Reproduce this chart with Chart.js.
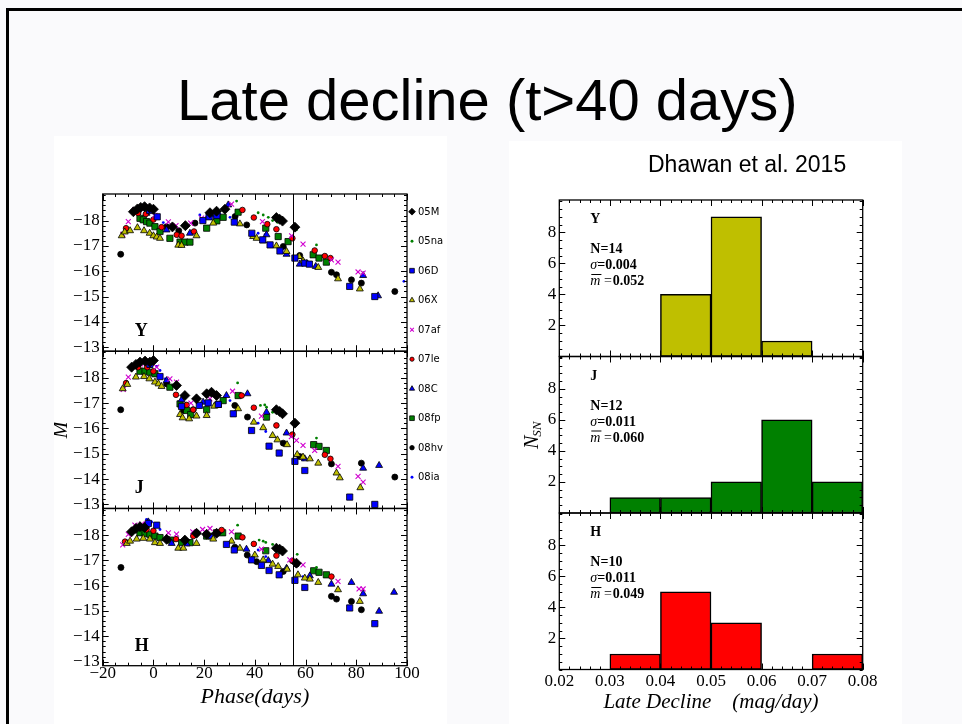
<!DOCTYPE html>
<html>
<head>
<meta charset="utf-8">
<script src="https://cdn.jsdelivr.net/npm/chart.js@4.4.0/dist/chart.umd.min.js"></script>
<style>
  html, body { margin: 0; padding: 0; }
  body { width: 962px; height: 724px; background: #fafafc; position: relative; overflow: hidden;
         font-family: "Liberation Sans", Arial, sans-serif; }
  #frameTop { position: absolute; left: 6px; top: 8px; width: 956px; height: 3px; background: #000; }
  #frameLeft { position: absolute; left: 6px; top: 8px; width: 3px; height: 716px; background: #000; }
  #title { position: absolute; left: 177px; top: 71px; font-size: 58px; line-height: 1; white-space: nowrap; color: #000; }
  .panel { position: absolute; background: #fff; }
  #leftPanel { left: 54px; top: 136px; width: 393px; height: 588px; }
  #rightPanel { left: 509px; top: 141px; width: 393px; height: 583px; }
  #cite { position: absolute; left: 648px; top: 153px; font-size: 23px; line-height: 1; white-space: nowrap; color: #000; }
  canvas { position: absolute; left: 0; top: 0; }
</style>
</head>
<body>
<div id="frameTop"></div>
<div id="frameLeft"></div>
<div id="title">Late decline (t&gt;40 days)</div>
<div class="panel" id="leftPanel"><canvas id="lcChart" width="393" height="588"></canvas></div>
<div class="panel" id="rightPanel"><canvas id="histChart" width="393" height="583"></canvas></div>
<div id="cite">Dhawan et al. 2015</div>

<script>
// ---- light curves: [phase (days), absolute mag] ----
const snNames = ['05M', '05na', '06D', '06X', '07af', '07le', '08C', '08fp', '08hv', '08ia'];
const bands = ['Y', 'J', 'H'];

const sn05M_Y = [[-7.9,-18.35],[-6.3,-18.46],[-5,-18.52],[-3.5,-18.55],[-1.5,-18.5],[0,-18.45],[7.5,-17.75],[12.6,-17.8],[22.3,-18.31],[24.9,-18.37],[28.2,-18.45],[48.5,-18.12],[49.8,-18.05],[50.9,-17.98],[55.8,-17.74]];
const sn05na_Y = [[32.8,-18.77],[41.3,-18.31],[43.3,-18.22],[45.3,-18.13],[47,-18.0],[48.9,-17.93],[56.4,-17.63],[64.3,-17.04]];
const sn06D_Y = [[-1.5,-18.4],[1.5,-18.15],[19.5,-18.0],[22,-18.15],[25,-18.2],[31.9,-17.94],[38.8,-17.5],[43.1,-17.24],[46,-17.04],[49.9,-16.8],[55.8,-16.52],[59.7,-16.32],[61.5,-16.28],[77.4,-15.4],[87.3,-15.0]];
const sn06X_Y = [[-12.5,-17.4],[-11.3,-17.55],[-9.2,-17.6],[-6.3,-17.72],[-3.7,-17.6],[-1.5,-17.5],[0,-17.4],[1.3,-17.35],[2.6,-17.3],[9.8,-17.03],[11.1,-17.02],[17,-17.4],[23.6,-17.9],[34.1,-17.87],[39.3,-17.37],[40.7,-17.3],[43.3,-17.2],[48.5,-17.0],[52.5,-16.78],[57.5,-16.58],[59,-16.41],[60.4,-16.3],[65,-16.15],[72.8,-15.7],[81.4,-15.3]];
const sn07af_Y = [[-12.1,-17.46],[-9.9,-17.96],[-7.3,-18.42],[-5,-18.5],[-3.4,-18.55],[0.6,-18.21],[5.9,-17.95],[8.9,-17.8],[14.7,-17.9],[19,-18.1],[30.8,-18.65],[43,-17.96],[54.5,-17.4],[59,-17.07],[70.2,-16.45],[72.8,-16.36],[80.7,-15.97],[82.7,-15.93]];
const sn07le_Y = [[-10.8,-17.7],[-6,-18.3],[-3,-18.26],[0,-18.04],[3.2,-17.74],[9.2,-17.44],[11.1,-17.4],[16,-17.57],[35.1,-18.42],[39.6,-18.12],[44.9,-17.86],[48.5,-17.66],[54.8,-17.3],[63.6,-16.82],[67.6,-16.6],[69.8,-16.52]];
const sn08C_Y = [[-2.7,-18.29],[5.2,-17.63],[14.4,-17.5],[29.5,-18.62],[44.6,-17.44],[52.5,-16.67],[57.7,-16.28],[64,-16.19],[82.7,-15.83],[88.6,-15.03]];
const sn08fp_Y = [[-5.3,-18.09],[-4,-18.03],[-2.7,-17.96],[-1.4,-17.9],[0.6,-17.76],[2.6,-17.57],[6.5,-17.3],[10.5,-17.15],[12.4,-17.15],[14.4,-17.15],[21,-17.7],[25,-17.99],[27.5,-18.13],[33.4,-18.33],[44.3,-17.7],[49.2,-17.37],[53.1,-17.17],[63,-16.65],[65.3,-16.52],[68.2,-16.36]];
const sn08hv_Y = [[-12.9,-16.67],[5.2,-17.76],[10,-17.6],[16.4,-17.9],[22,-18.25],[32.2,-18.16],[36.8,-17.83],[51.2,-16.98],[57.7,-16.62],[70.2,-15.96],[72.2,-15.86],[78.1,-15.66],[82,-15.53],[95.2,-15.2]];
const sn08ia_Y = [[-2,-18.42],[0,-18.29],[1.9,-18.1],[3.9,-17.92],[18.3,-18.22],[21,-18.16],[23.6,-18.18],[26.2,-18.25],[30.2,-18.13],[41.3,-17.5],[44,-17.44],[59,-16.45],[98.8,-15.6]];

const sn05M_J = [[-8.6,-18.42],[-6.9,-18.53],[-5.3,-18.62],[-3.3,-18.66],[-1.4,-18.62],[0,-18.68],[9.1,-17.7],[12.4,-17.3],[17,-17.17],[21,-17.37],[22.9,-17.43],[24.9,-17.3],[48.5,-16.74],[49.8,-16.67],[50.9,-16.58],[55.8,-16.21]];
const sn05na_J = [[33.2,-17.8],[42.2,-16.91],[43.9,-16.93],[44.6,-16.84],[47,-16.64],[64.3,-15.62]];
const sn06D_J = [[-1.4,-18.53],[2.6,-18.05],[11.1,-16.87],[18.1,-16.91],[21.6,-17.01],[25.6,-16.95],[31.5,-16.58],[38.7,-15.92],[45.6,-15.3],[49.6,-15.03],[55.8,-14.7],[59.7,-14.34],[77.4,-13.29],[87.3,-13.0]];
const sn06X_J = [[-12.1,-17.57],[-10.3,-17.74],[-6.9,-18.03],[-3.7,-18.05],[-1.6,-17.96],[0.6,-17.83],[2,-17.76],[3.2,-17.66],[10.5,-16.55],[11.5,-16.42],[14.1,-16.38],[17,-16.49],[21,-16.51],[24,-16.88],[33.4,-16.78],[39.6,-16.25],[43.3,-16.03],[47,-15.72],[48.9,-15.55],[52.7,-15.36],[56.7,-14.97],[59,-14.87],[61.7,-14.8],[65,-14.63],[72.2,-14.24],[73.5,-14.05],[81.6,-13.66]];
const sn07af_J = [[-11.9,-17.54],[-9.9,-18.03],[-5,-18.55],[-2.7,-18.58],[1.3,-18.42],[6.5,-17.96],[9.1,-17.83],[14.8,-17.0],[22.3,-17.17],[31.2,-17.47],[42.6,-16.49],[54.4,-15.68],[56.4,-15.53],[59,-15.33],[63.6,-15.13],[72.8,-14.5],[80.7,-14.11],[82.7,-13.88]];
const sn07le_J = [[-10.8,-17.79],[-6,-18.42],[-2.4,-18.42],[0,-18.26],[8.9,-17.33],[13.1,-16.93],[15.7,-16.74],[34.8,-17.3],[39.6,-16.82],[48.5,-16.12],[54.8,-15.76],[67.6,-14.96],[69.8,-14.8]];
const sn08C_J = [[-2,-18.5],[5.2,-17.89],[11.1,-17.13],[19.6,-17.04],[28.8,-17.3],[37.1,-17.37],[44.6,-16.64],[52.5,-15.82],[59.7,-14.8],[82.7,-14.43],[89,-14.54]];
const sn08fp_J = [[-5.3,-18.26],[-3.3,-18.26],[-1.4,-18.22],[0.6,-18.16],[6.5,-17.63],[10.5,-16.97],[13.1,-16.71],[14.7,-16.55],[21,-16.74],[25.6,-16.95],[27.5,-17.1],[33.4,-17.3],[44.6,-16.45],[63.2,-15.36],[65.3,-15.29],[68.2,-15.13]];
const sn08hv_J = [[-12.9,-16.74],[5.2,-17.76],[11.8,-16.71],[15.7,-16.74],[32.1,-16.91],[37.1,-16.45],[51.2,-15.42],[57.7,-14.89],[70.2,-14.6],[82,-14.63],[95.2,-14.08]];
const sn08ia_J = [[1.3,-18.45],[2.6,-18.29],[4.6,-17.96],[13.1,-16.84],[30.2,-17.1],[41.3,-16.21],[44.3,-15.88],[59,-14.76]];

const sn05M_H = [[-8.6,-18.13],[-6.9,-18.26],[-5.3,-18.33],[-3.5,-18.3],[5.2,-17.83],[12.4,-17.8],[17,-18.07],[21,-18.03],[24.9,-18.07],[48.5,-17.48],[49.8,-17.44],[50.9,-17.37],[56.4,-16.89]];
const sn05na_H = [[33.2,-18.39],[41.7,-17.8],[43.3,-17.76],[44.3,-17.71],[47,-17.63],[56.7,-17.24],[64.3,-16.72]];
const sn06D_H = [[-2,-18.46],[1.3,-18.39],[28.8,-17.63],[31.9,-17.41],[38.7,-17.02],[42.6,-16.8],[45.6,-16.6],[49.6,-16.43],[55.8,-16.21],[59.7,-15.93],[77.4,-15.12],[87.3,-14.5]];
const sn06X_H = [[-10.5,-17.67],[-9.2,-17.76],[-6.6,-17.84],[-4,-17.87],[-1.4,-17.84],[0.6,-17.7],[2.6,-17.67],[9.8,-17.48],[11.8,-17.48],[17,-17.67],[23.6,-17.84],[30.8,-17.76],[34.1,-17.48],[40,-17.21],[43.3,-17.02],[47,-16.85],[49.2,-16.76],[52.7,-16.65],[57,-16.43],[59.7,-16.3],[61.7,-16.26],[65,-16.13],[72.8,-15.84],[81.4,-15.38]];
const sn07af_H = [[-12.1,-17.61],[-9.9,-18.03],[-7.3,-18.39],[-4.6,-18.43],[-2.7,-18.43],[5.9,-18.09],[9.1,-18.04],[15.5,-18.13],[19.4,-18.22],[22.3,-18.26],[30.8,-18.13],[42.6,-17.44],[53.8,-17.02],[59,-16.82],[72.8,-16.17],[81.1,-15.87],[82.7,-15.87]];
const sn07le_H = [[-11.2,-17.74],[-6.6,-18.26],[-2.7,-18.22],[0,-18.17],[8.9,-17.84],[15.7,-17.96],[26.9,-18.2],[35.1,-17.91],[39.6,-17.65],[48.5,-17.19],[54.8,-16.98],[70.2,-16.36]];
const sn08C_H = [[-2,-18.52],[7.2,-17.67],[13.1,-17.65],[22.9,-17.93],[36.7,-17.44],[45.3,-16.99],[52.5,-16.69],[61.7,-16.39],[70.2,-16.06],[78.1,-16.13],[82.7,-15.68],[89,-14.99],[94.9,-15.74]];
const sn08fp_H = [[-5.3,-18.09],[-3.3,-18.07],[-1.4,-18.03],[0.6,-17.96],[2.6,-17.9],[6.8,-17.8],[11.1,-17.7],[14.4,-17.7],[21,-17.96],[24.9,-18.09],[27.3,-18.09],[33.4,-17.96],[44.3,-17.38],[63.2,-16.59],[65.3,-16.53],[68.2,-16.43]];
const sn08hv_H = [[-12.8,-16.72],[5.5,-17.84],[11.8,-17.74],[17,-18.09],[32.1,-17.52],[37,-17.21],[40.7,-16.95],[51.2,-16.56],[56.4,-16.85],[70.2,-15.58],[72.2,-15.47],[78.1,-15.38],[82,-15.05]];
const sn08ia_H = [[-2.7,-18.62],[-0.7,-18.52],[1.3,-18.39],[2.6,-18.22],[20.3,-18.09],[24.9,-18.0],[30.8,-17.74],[41.3,-17.41],[44.3,-17.15],[59,-16.36]];

const curvesY = [sn05M_Y, sn05na_Y, sn06D_Y, sn06X_Y, sn07af_Y, sn07le_Y, sn08C_Y, sn08fp_Y, sn08hv_Y, sn08ia_Y];
const curvesJ = [sn05M_J, sn05na_J, sn06D_J, sn06X_J, sn07af_J, sn07le_J, sn08C_J, sn08fp_J, sn08hv_J, sn08ia_J];
const curvesH = [sn05M_H, sn05na_H, sn06D_H, sn06X_H, sn07af_H, sn07le_H, sn08C_H, sn08fp_H, sn08hv_H, sn08ia_H];

const phaseTicks = [-20, 0, 20, 40, 60, 80, 100];
const magTicks = [-18, -17, -16, -15, -14, -13];
const cutoffPhase = 55;

// ---- late decline histograms ----
const declineBins = [0.02, 0.03, 0.04, 0.05, 0.06, 0.07, 0.08];
const countsY = [0, 0, 4, 9, 1, 0];
const countsJ = [0, 1, 1, 2, 6, 2];
const countsH = [0, 1, 5, 3, 0, 1];
const statsY = ['14', '0.004', '0.052'];
const statsJ = ['12', '0.011', '0.060'];
const statsH = ['10', '0.011', '0.049'];
const declineTicks = [0.02, 0.03, 0.04, 0.05, 0.06, 0.07, 0.08];
const countTicks = [2, 4, 6, 8];

// ---- styles ----
const serif = '"Liberation Serif", "Times New Roman", serif';
const markers = [
  { style: 'rectRot',  r: 5.0, bg: '#000000', edge: '#000000', bw: 0.8 },
  { style: 'circle',   r: 1.4, bg: '#008000', edge: '#008000', bw: 0 },
  { style: 'rect',     r: 4.4, bg: '#0000ff', edge: '#000000', bw: 0.8 },
  { style: 'triangle', r: 4.0, bg: '#bfbf00', edge: '#000000', bw: 0.8 },
  { style: 'crossRot', r: 3.5, bg: '#d000d0', edge: '#d000d0', bw: 1.1 },
  { style: 'circle',   r: 2.8, bg: '#ff0000', edge: '#000000', bw: 0.8 },
  { style: 'triangle', r: 4.0, bg: '#0000ff', edge: '#000000', bw: 0.8 },
  { style: 'rect',     r: 4.4, bg: '#008000', edge: '#000000', bw: 0.8 },
  { style: 'circle',   r: 3.0, bg: '#000000', edge: '#000000', bw: 0.8 },
  { style: 'circle',   r: 1.4, bg: '#0000ff', edge: '#0000ff', bw: 0 }
];
const minus = v => String(v).replace('-', '\u2212');

function steps(min, max, step) {
  const out = [];
  for (let k = Math.ceil(min / step - 1e-6); k <= Math.floor(max / step + 1e-6); k++) out.push(k * step);
  return out;
}

// box frame + inward ticks on all sides of every stacked panel
const frameTicks = {
  id: 'frameTicks',
  afterDatasetsDraw(chart, args, o) {
    const ctx = chart.ctx, ca = chart.chartArea, xs = chart.scales.x;
    ctx.save();
    ctx.strokeStyle = '#000';
    ctx.lineWidth = 1;
    const xMaj = xs.ticks.map(t => t.value);
    const xMin = steps(xs.min, xs.max, o.xMinor);
    o.yIds.forEach(id => {
      const ys = chart.scales[id];
      ctx.beginPath();
      const tick = (vals, len) => {
        vals.forEach(v => {
          const px = Math.round(xs.getPixelForValue(v)) + 0.5;
          ctx.moveTo(px, ys.bottom); ctx.lineTo(px, ys.bottom - len);
          ctx.moveTo(px, ys.top); ctx.lineTo(px, ys.top + len);
        });
      };
      tick(xMin, 3); tick(xMaj, 6);
      const yMin = steps(Math.min(ys.min, ys.max), Math.max(ys.min, ys.max), o.yMinor);
      const yMaj = ys.ticks.map(t => t.value);
      [[yMin, 3], [yMaj, 6]].forEach(([vals, len]) => {
        vals.forEach(v => {
          const py = Math.round(ys.getPixelForValue(v)) + 0.5;
          ctx.moveTo(ca.left, py); ctx.lineTo(ca.left + len, py);
          ctx.moveTo(ca.right, py); ctx.lineTo(ca.right - len, py);
        });
      });
      ctx.stroke();
      ctx.lineWidth = 1.3;
      ctx.strokeRect(ca.left, ys.top, ca.right - ca.left, ys.bottom - ys.top);
      ctx.lineWidth = 1;
    });
    ctx.restore();
  }
};

// vertical cut line, band letters and legend for the light-curve figure
const lcDecor = {
  id: 'lcDecor',
  afterDraw(chart) {
    const ctx = chart.ctx, ca = chart.chartArea, xs = chart.scales.x;
    ctx.save();
    const px = Math.round(xs.getPixelForValue(cutoffPhase)) + 0.5;
    ctx.strokeStyle = '#000'; ctx.lineWidth = 1;
    ctx.beginPath(); ctx.moveTo(px, ca.top); ctx.lineTo(px, ca.bottom); ctx.stroke();

    ctx.fillStyle = '#000';
    ctx.font = 'bold 18px ' + serif;
    ctx.textBaseline = 'alphabetic';
    bands.forEach(b => {
      const ys = chart.scales['y' + b];
      ctx.fillText(b, ca.left + 32, ys.bottom - 15);
    });

    ctx.font = '10px "DejaVu Sans", sans-serif';
    ctx.textBaseline = 'middle';
    snNames.forEach((name, i) => {
      const m = markers[i];
      const y = 75.7 + i * 29.5;
      ctx.fillStyle = m.bg; ctx.strokeStyle = m.edge;
      ctx.lineWidth = m.bw || 1;
      Chart.helpers.drawPoint(ctx, { pointStyle: m.style, rotation: 0, radius: Math.min(m.r * 0.75, 3.4) + (m.r < 2 ? 0.4 : 0), borderWidth: m.bw || (m.style === 'crossRot' ? 1 : 0) }, 358, y);
      ctx.fillStyle = '#000';
      ctx.fillText(name, 364, y + 0.5);
    });
    ctx.restore();
  }
};

function magAxis(showTitle) {
  return {
    type: 'linear', position: 'left', stack: 'lc', stackWeight: 1, reverse: true,
    min: -19.05, max: -12.84,
    grid: { display: false, drawTicks: false }, border: { display: false },
    afterFit: s => { s.width = 48.7; },
    afterBuildTicks: s => { s.ticks = magTicks.map(v => ({ value: v })); },
    ticks: { autoSkip: false, padding: 3, color: '#000', font: { family: serif, size: 17 }, callback: v => minus(v) },
    title: { display: showTitle, text: 'M', color: '#000', font: { family: serif, size: 20, style: 'italic' }, padding: { top: -4.5, bottom: 0 } }
  };
}

const lcDatasets = [];
[[curvesY, 'yY'], [curvesJ, 'yJ'], [curvesH, 'yH']].forEach(([curves, axisId]) => {
  curves.forEach((pts, i) => {
    const m = markers[i];
    lcDatasets.push({
      label: snNames[i],
      data: pts.map(([p, mag]) => ({ x: p, y: mag })),
      yAxisID: axisId,
      showLine: false,
      pointStyle: m.style,
      pointRadius: m.r,
      pointBackgroundColor: m.bg,
      pointBorderColor: m.edge,
      pointBorderWidth: m.bw
    });
  });
});

new Chart(document.getElementById('lcChart'), {
  type: 'scatter',
  data: { datasets: lcDatasets },
  options: {
    responsive: false, animation: false, events: [],
    layout: { padding: { top: 58, right: 40, left: 0, bottom: 0 } },
    plugins: { legend: { display: false }, tooltip: { enabled: false },
               frameTicks: { yIds: ['yY', 'yJ', 'yH'], xMinor: 5, yMinor: 0.2 } },
    scales: {
      x: {
        type: 'linear', position: 'bottom', min: -20, max: 100,
        grid: { display: false, drawTicks: false }, border: { display: false },
        afterFit: s => { s.height = 58.3; },
        afterBuildTicks: s => { s.ticks = phaseTicks.map(v => ({ value: v })); },
        ticks: { autoSkip: false, maxRotation: 0, padding: -2.5, color: '#000', font: { family: serif, size: 17 }, callback: v => minus(v) },
        title: { display: true, text: 'Phase(days)', color: '#000', font: { family: serif, size: 22, style: 'italic' }, padding: { top: 0, bottom: 14 } }
      },
      yH: magAxis(false),
      yJ: magAxis(true),
      yY: magAxis(false)
    }
  },
  plugins: [frameTicks, lcDecor]
});

// ---- histogram figure ----
const histColors = { Y: '#bfbf00', J: '#008000', H: '#ff0000' };
const histCounts = { Y: countsY, J: countsJ, H: countsH };
const histStats = { Y: statsY, J: statsJ, H: statsH };

const histDecor = {
  id: 'histDecor',
  afterDraw(chart) {
    const ctx = chart.ctx, ca = chart.chartArea;
    ctx.save();
    ctx.fillStyle = '#000';
    ctx.textBaseline = 'alphabetic';
    const bold = 'bold 14px ' + serif, ital = 'italic 14px ' + serif;
    bands.forEach(b => {
      const ys = chart.scales['y' + b];
      const x0 = ca.left + 31, t = ys.top;
      const st = histStats[b];
      ctx.font = bold;
      ctx.fillText(b, x0, t + 23);
      ctx.fillText('N=' + st[0], x0, t + 53);
      ctx.font = ital;
      ctx.fillText('\u03c3', x0, t + 69);
      let w = ctx.measureText('\u03c3').width;
      ctx.font = bold;
      ctx.fillText('=' + st[1], x0 + w, t + 69);
      ctx.font = ital;
      ctx.fillText('m', x0, t + 85);
      w = ctx.measureText('m').width;
      ctx.fillRect(x0 + 1, t + 74, w, 1);
      ctx.font = '14px ' + serif;
      ctx.fillText(' =', x0 + w, t + 85);
      const w2 = ctx.measureText(' =').width;
      ctx.font = bold;
      ctx.fillText(st[2], x0 + w + w2 + 1, t + 85);
    });
    // N_SN axis label
    ctx.translate(24, (ca.top + ca.bottom) / 2);
    ctx.rotate(-Math.PI / 2);
    ctx.textBaseline = 'middle';
    ctx.font = 'italic 20px ' + serif;
    const nw = ctx.measureText('N').width;
    ctx.font = 'italic 13px ' + serif;
    const sw = ctx.measureText('SN').width;
    const x = -(nw + sw) / 2;
    ctx.font = 'italic 20px ' + serif;
    ctx.fillText('N', x, 0);
    ctx.font = 'italic 13px ' + serif;
    ctx.fillText('SN', x + nw - 1, 5);
    ctx.restore();
  }
};

function countAxis() {
  return {
    type: 'linear', position: 'left', stack: 'hist', stackWeight: 1,
    min: 0, max: 10.08,
    grid: { display: false, drawTicks: false }, border: { display: false },
    afterFit: s => { s.width = 50.3; },
    afterBuildTicks: s => { s.ticks = countTicks.map(v => ({ value: v })); },
    ticks: { autoSkip: false, padding: 3, color: '#000', font: { family: serif, size: 17 } }
  };
}

const histDatasets = bands.map(b => ({
  type: 'bar',
  label: b,
  yAxisID: 'y' + b,
  data: histCounts[b].map((c, i) => ({ x: (declineBins[i] + declineBins[i + 1]) / 2, y: c > 0 ? c : null })),
  backgroundColor: histColors[b],
  borderColor: '#000',
  borderWidth: 1.5,
  borderSkipped: false,
  grouped: false,
  barPercentage: 1,
  categoryPercentage: 1
}));

new Chart(document.getElementById('histChart'), {
  type: 'bar',
  data: { datasets: histDatasets },
  options: {
    responsive: false, animation: false, events: [],
    layout: { padding: { top: 59, right: 39.3, left: 0, bottom: 0 } },
    plugins: { legend: { display: false }, tooltip: { enabled: false },
               frameTicks: { yIds: ['yY', 'yJ', 'yH'], xMinor: 0.002, yMinor: 0.5 } },
    scales: {
      x: {
        type: 'linear', position: 'bottom', min: 0.02, max: 0.08, offset: false,
        grid: { display: false, drawTicks: false }, border: { display: false },
        afterFit: s => { s.height = 54.5; },
        afterBuildTicks: s => { s.ticks = declineTicks.map(v => ({ value: v })); },
        ticks: { autoSkip: false, maxRotation: 0, padding: 1.5, color: '#000', font: { family: serif, size: 17 }, callback: v => v.toFixed(2) },
        title: { display: true, text: 'Late Decline    (mag/day)', color: '#000', font: { family: serif, size: 21, style: 'italic' }, padding: { top: 0, bottom: 8.5 } }
      },
      yH: countAxis(),
      yJ: countAxis(),
      yY: countAxis()
    }
  },
  plugins: [frameTicks, histDecor]
});
</script>
</body>
</html>
